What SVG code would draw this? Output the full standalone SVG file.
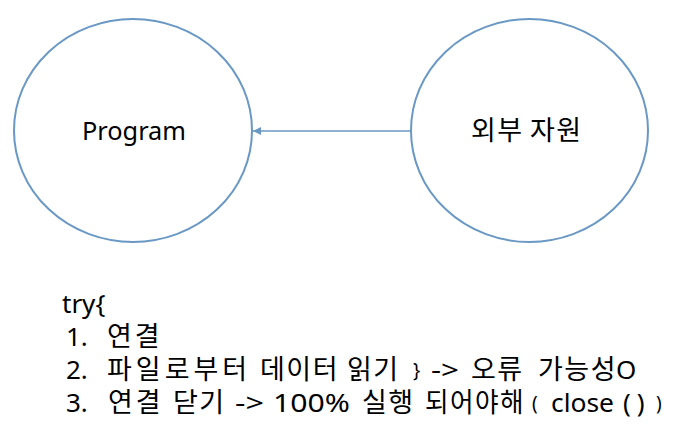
<svg xmlns="http://www.w3.org/2000/svg" width="697" height="443" viewBox="0 0 697 443">
<style>
.node{fill:#ffffff;stroke:#6a98c4;stroke-width:2}
.lbl{font-family:"Noto Sans","Noto Sans CJK KR",sans-serif;font-size:26px;fill:#000}
.ko{font-family:"Noto Sans CJK KR","Noto Sans",sans-serif;font-size:27px;letter-spacing:1.5px;fill:#000}
.br{font-family:"Noto Sans",sans-serif;font-size:19px;fill:#000}
.conn{stroke:#6a98c4;stroke-width:1.3;fill:none}
</style>
<defs>
<marker id="ah" viewBox="0 0 10 10" refX="10" refY="5" markerWidth="8" markerHeight="8" orient="auto" markerUnits="userSpaceOnUse">
<path d="M0,0 L10,5 L0,10 z" fill="#6a98c4"/>
</marker>
</defs>
<rect width="697" height="443" fill="#ffffff"/>
<g id="program">
<ellipse class="node" cx="133" cy="130.5" rx="119" ry="111.5"/>
<text class="lbl" x="82" y="140" textLength="104" lengthAdjust="spacingAndGlyphs">Program</text>
</g>
<g id="external">
<ellipse class="node" cx="529.5" cy="130.5" rx="118.5" ry="111.5"/>
<text class="ko" x="471" y="140">외부</text>
<text class="ko" x="530" y="140">자원</text>
</g>
<g id="connectors">
<line class="conn" x1="411" y1="131" x2="253" y2="131" marker-end="url(#ah)"/>
</g>
<g id="notes">
<text class="lbl" x="62" y="313">try{</text>

<text class="lbl" x="66" y="346">1.</text>
<text class="ko" x="107" y="346" style="letter-spacing:3px">연결</text>

<text class="lbl" x="66" y="379">2.</text>
<text class="ko" x="107" y="379" style="letter-spacing:4px">파일로부터</text>
<text class="ko" x="260" y="379">데이터</text>
<text class="ko" x="347" y="379">읽기</text>
<text class="br" x="413" y="377">}</text>
<text class="lbl" x="431" y="379" textLength="28" lengthAdjust="spacingAndGlyphs">-&gt;</text>
<text class="ko" x="471" y="379">오류</text>
<text class="ko" x="538" y="379">가능성</text>
<text class="lbl" x="616" y="379">O</text>

<text class="lbl" x="66" y="412">3.</text>
<text class="ko" x="108" y="412" style="letter-spacing:3px">연결</text>
<text class="ko" x="173" y="412">닫기</text>
<text class="lbl" x="235" y="412" textLength="29" lengthAdjust="spacingAndGlyphs">-&gt;</text>
<text class="lbl" x="273" y="412" textLength="77" lengthAdjust="spacingAndGlyphs">100%</text>
<text class="ko" x="362" y="412">실행</text>
<text class="ko" x="425" y="412" textLength="100" lengthAdjust="spacingAndGlyphs">되어야해</text>
<text class="br" x="532" y="410">(</text>
<text class="lbl" x="551" y="412" textLength="63" lengthAdjust="spacingAndGlyphs">close</text>
<text class="lbl" x="623" y="412" style="letter-spacing:6px">()</text>
<text class="br" x="656" y="410">)</text>
</g>
</svg>
